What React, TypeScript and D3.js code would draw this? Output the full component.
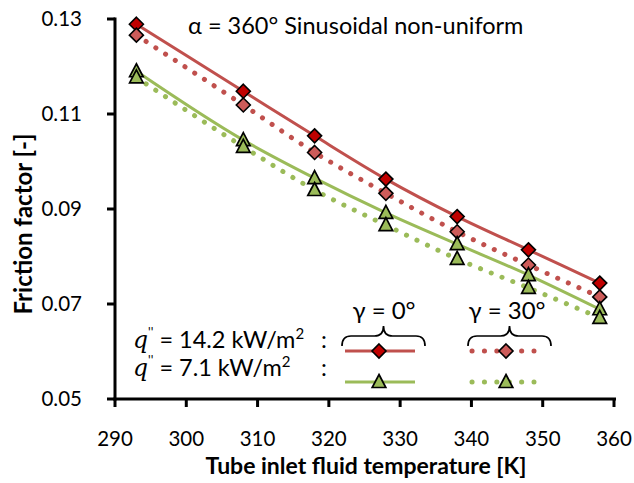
import React from "react";
import * as d3 from "d3";

// tube inlet temperatures [K]
const temps = [293, 308, 318, 328, 338, 348, 358];
// friction factor, q'' = 14.2 kW/m2
const high0 = [0.1289, 0.1148, 0.1054, 0.0963, 0.0884, 0.0814, 0.0744];
const high30 = [0.1266, 0.1119, 0.1019, 0.0933, 0.0852, 0.0782, 0.0715];
// friction factor, q'' = 7.1 kW/m2
const low0 = [0.1190, 0.1045, 0.0965, 0.0892, 0.0826, 0.0761, 0.0689];
const low30 = [0.1177, 0.1031, 0.0940, 0.0866, 0.0795, 0.0734, 0.0671];

const xTicks = [290, 300, 310, 320, 330, 340, 350, 360];
const yTicks = [0.05, 0.07, 0.09, 0.11, 0.13];

const W = 634;
const H = 483;
const FONT = "Lato, 'Open Sans', sans-serif";

const RED = "#C0504D";
const GREEN = "#9BBB59";

const x = d3.scaleLinear().domain([290, 360]).range([115, 614]);
const y = d3.scaleLinear().domain([0.05, 0.13]).range([399, 19]);

const series = [
  { vals: high0, line: RED, fill: "#C00000", shape: "diamond", dotted: false },
  { vals: high30, line: RED, fill: "#CD5C5A", shape: "diamond", dotted: true },
  { vals: low0, line: GREEN, fill: GREEN, shape: "triangle", dotted: false },
  { vals: low30, line: GREEN, fill: GREEN, shape: "triangle", dotted: true },
];

const Marker = ({ cx, cy, shape, fill }) => {
  if (shape === "diamond") {
    const r = 7;
    return (
      <path
        d={`M${cx},${cy - r}L${cx + r},${cy}L${cx},${cy + r}L${cx - r},${cy}Z`}
        fill={fill}
        stroke="#000"
        strokeWidth={1.6}
      />
    );
  }
  return (
    <path
      d={`M${cx},${cy - 7.5}L${cx + 6.8},${cy + 5.5}L${cx - 6.8},${cy + 5.5}Z`}
      fill={fill}
      stroke="#000"
      strokeWidth={1.7}
    />
  );
};

const brace = (x1, x2, yTop, yEnd) => {
  const cx = (x1 + x2) / 2;
  const ym = (yTop + yEnd) / 2;
  const r = 9;
  return `M${x1},${yEnd}Q${x1},${ym} ${x1 + r},${ym}L${cx - r},${ym}Q${cx},${ym} ${cx},${yTop}Q${cx},${ym} ${cx + r},${ym}L${x2 - r},${ym}Q${x2},${ym} ${x2},${yEnd}`;
};

const QLabel = ({ tx, ty, value }) => (
  <text x={tx} y={ty} fontFamily={FONT} fontSize={23.5} fill="#000">
    <tspan fontFamily="'DejaVu Serif', 'Liberation Serif', serif" fontStyle="italic">q</tspan>
    <tspan dy={-11} fontSize={13}>''</tspan>
    <tspan dy={11}>{` = ${value} kW/m`}</tspan>
    <tspan dy={-9} fontSize={15}>2</tspan>
  </text>
);

const App = () => {
  const line = d3
    .line<number>()
    .x((_, i) => x(temps[i]))
    .y((d) => y(d))
    .curve(d3.curveMonotoneX);

  return (
    <svg
      width={W}
      height={H}
      style={{ position: "absolute", left: 0, top: 0, background: "#fff" }}
    >
      {/* series */}
      {series.map((s, si) => (
        <g key={si}>
          <path
            d={line(s.vals) || ""}
            fill="none"
            stroke={s.line}
            strokeWidth={s.dotted ? 5 : 3}
            strokeLinecap="round"
            strokeDasharray={s.dotted ? "0.1 11.5" : undefined}
          />
          {s.vals.map((v, i) => (
            <Marker key={i} cx={x(temps[i])} cy={y(v)} shape={s.shape} fill={s.fill} />
          ))}
        </g>
      ))}

      {/* axes */}
      <g stroke="#000" strokeWidth={3}>
        <line x1={115} x2={115} y1={17.5} y2={400.5} />
        <line x1={113.5} x2={616} y1={399} y2={399} />
        {yTicks.map((t) => (
          <line key={t} x1={107} x2={115} y1={y(t)} y2={y(t)} />
        ))}
        {xTicks.map((t) => (
          <line key={t} x1={x(t)} x2={x(t)} y1={399} y2={407} />
        ))}
      </g>
      <g fontFamily={FONT} fontSize={20.5} fill="#000">
        {yTicks.map((t) => (
          <text key={t} x={82} y={y(t) + 7} textAnchor="end">
            {d3.format(".2f")(t)}
          </text>
        ))}
        {xTicks.map((t) => (
          <text key={t} x={x(t)} y={446} textAnchor="middle">
            {t}
          </text>
        ))}
      </g>
      <text
        x={366}
        y={474}
        textAnchor="middle"
        fontFamily={FONT}
        fontSize={23}
        fontWeight="bold"
      >
        Tube inlet fluid temperature [K]
      </text>
      <text
        transform="translate(32,224) rotate(-90)"
        textAnchor="middle"
        fontFamily={FONT}
        fontSize={24}
        fontWeight="bold"
      >
        Friction factor [-]
      </text>

      {/* title */}
      <text x={188} y={34} fontFamily={FONT} fontSize={23.5}>
        α = 360° Sinusoidal non-uniform
      </text>

      {/* legend */}
      <QLabel tx={133} ty={348} value="14.2" />
      <QLabel tx={133} ty={376} value="7.1" />
      <text x={321} y={348} fontFamily={FONT} fontSize={23.5}>:</text>
      <text x={321} y={376} fontFamily={FONT} fontSize={23.5}>:</text>

      <text x={384} y={319} textAnchor="middle" fontFamily={FONT} fontSize={24}>
        γ = 0°
      </text>
      <text x={507} y={319} textAnchor="middle" fontFamily={FONT} fontSize={24}>
        γ = 30°
      </text>
      <path d={brace(342, 425, 326, 346)} fill="none" stroke="#000" strokeWidth={1.7} />
      <path d={brace(468, 551, 326, 346)} fill="none" stroke="#000" strokeWidth={1.7} />

      <line x1={345} x2={415} y1={351} y2={351} stroke={RED} strokeWidth={3.2} />
      <Marker cx={379} cy={351} shape="diamond" fill="#C00000" />
      <line x1={345} x2={415} y1={382} y2={382} stroke={GREEN} strokeWidth={3.2} />
      <Marker cx={379} cy={382} shape="triangle" fill={GREEN} />

      <line x1={472} x2={534} y1={351} y2={351} stroke={RED} strokeWidth={5} strokeLinecap="round" strokeDasharray="0.1 12.3" />
      <Marker cx={506} cy={351} shape="diamond" fill="#CD5C5A" />
      <line x1={472} x2={534} y1={382} y2={382} stroke={GREEN} strokeWidth={5} strokeLinecap="round" strokeDasharray="0.1 12.3" />
      <Marker cx={506} cy={382} shape="triangle" fill={GREEN} />
    </svg>
  );
};

export default App;
